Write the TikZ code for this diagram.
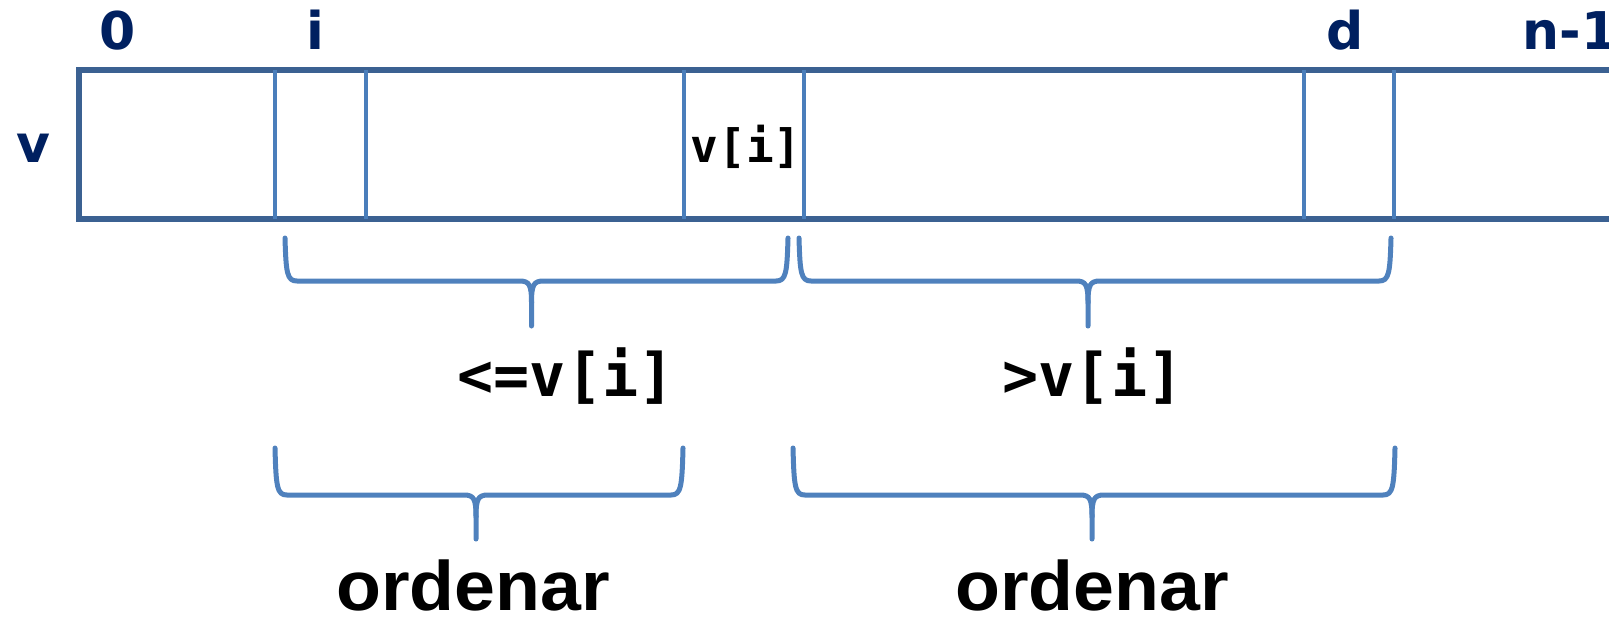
\documentclass[tikz,border=0pt]{standalone}
\usepackage{fontspec}
\setmainfont{Liberation Sans}
\newfontfamily\labfont{DejaVu Sans}
\newfontfamily\codefont{DejaVu Sans Mono}
\definecolor{outline}{HTML}{3B6192}
\definecolor{cellline}{HTML}{4A7EBB}
\definecolor{bracecol}{HTML}{4F81BD}
\definecolor{navy}{HTML}{002060}
\newcommand{\drawbrace}[6]{% xl, xr, xt, ytop, yh, ybottom
  \draw[bracestyle] (#1,#4) .. controls ({#1+1},{#5-8}) and ({#1+2},#5) .. ({#1+12},#5)
     -- ({#3-12},#5) .. controls ({#3-2},#5) and (#3,{#5+4}) .. (#3,{#5+22}) -- (#3,#6);
  \draw[bracestyle] (#2,#4) .. controls ({#2-1},{#5-8}) and ({#2-2},#5) .. ({#2-12},#5)
     -- ({#3+12},#5) .. controls ({#3+2},#5) and (#3,{#5+4}) .. (#3,{#5+22});
}
\begin{document}
\begin{tikzpicture}[x=0.5pt,y=-0.5pt,
  idx/.style={anchor=base,inner sep=0pt,text=navy,font=\labfont\bfseries\fontsize{26}{30}\selectfont},
  cellsep/.style={draw=cellline,line width=2.4pt},
  arraybox/.style={draw=outline,line width=3pt},
  bracestyle/.style={draw=bracecol,line width=2.5pt,line cap=round},
  bigcode/.style={anchor=base,inner sep=0pt,font=\codefont\bfseries\fontsize{30}{34}\selectfont},
  smallcode/.style={anchor=base,inner sep=0pt,font=\codefont\bfseries\fontsize{23}{26}\selectfont},
  word/.style={anchor=base,inner sep=0pt,font=\bfseries\fontsize{35}{40}\selectfont}]
\useasboundingbox (0,0) rectangle (1609,617);
\clip (0,0) rectangle (1609,617);
% array
\draw[arraybox] (1650,70) -- (79,70) -- (79,218.5) -- (1650,218.5);
\foreach \x in {275,366,684,804,1304,1394}
  \draw[cellsep] (\x,70) -- (\x,218.5);
% index labels
\node[idx] (l0) at (118,49) {0};
\node[idx] (li) at (315,49) {i};
\node[idx] (ld) at (1345,49) {d};
\node[idx,anchor=base west] (ln) at (1522,49) {n-1};
\node[idx] (lv) at (33,162) {v};
\node[smallcode] (pivot) at (746,162) {v[i]};
% braces
\drawbrace{285}{788}{531.5}{238}{281}{326}
\drawbrace{799}{1391}{1088}{238}{281}{326}
\drawbrace{275}{683}{476}{448}{495}{539}
\drawbrace{793}{1395}{1092}{448}{495}{539}
% labels
\node[bigcode] (le) at (566,396) {<=v[i]};
\node[bigcode] (gt) at (1093,396) {>v[i]};
\node[word] (o1) at (473,610) {\scalebox{1.05}[1]{ordenar}};
\node[word] (o2) at (1092,610) {\scalebox{1.05}[1]{ordenar}};
\end{tikzpicture}
\end{document}
